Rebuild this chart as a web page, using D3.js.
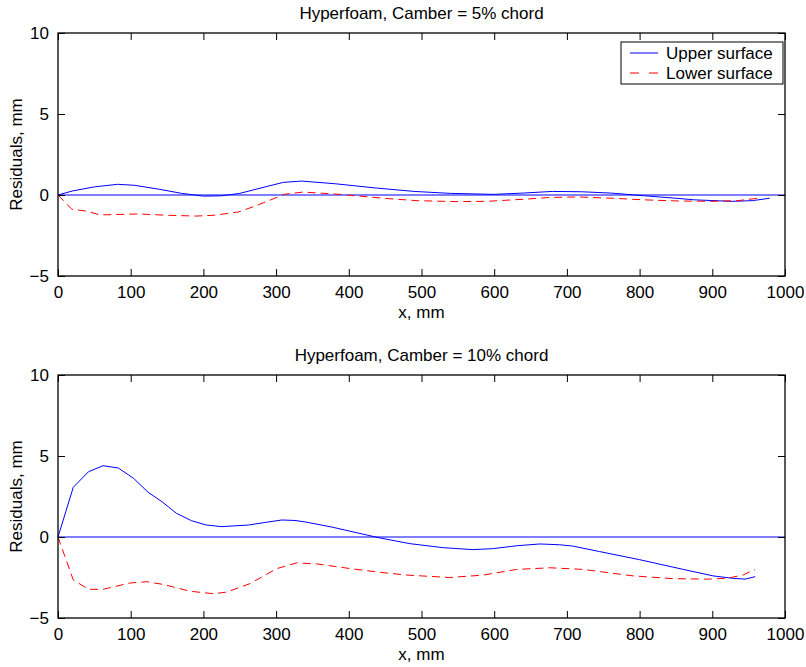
<!DOCTYPE html>
<html>
<head>
<meta charset="utf-8">
<script src="https://cdn.jsdelivr.net/npm/d3@7"></script>
<style>
  body { margin: 0; background: #fff; }
  svg { font-family: "Liberation Sans", Arial, Helvetica, sans-serif; }
</style>
</head>
<body>
<svg id="chart" width="806" height="667"></svg>
<script>
// ---- data ----
const xTicks = [0, 100, 200, 300, 400, 500, 600, 700, 800, 900, 1000];
const yTicks = [-5, 0, 5, 10];
const seriesNames = ["Upper surface", "Lower surface"];

// Camber = 5% chord
const top5UpperX = [0, 20, 50, 82, 105, 140, 170, 200, 225, 250, 285, 310, 335, 380, 440, 490, 540, 600, 640, 680, 720, 760, 807, 850, 876, 927, 955, 979];
const top5UpperY = [0, 0.25, 0.5, 0.66, 0.6, 0.35, 0.1, -0.07, -0.05, 0.1, 0.5, 0.78, 0.86, 0.7, 0.42, 0.22, 0.1, 0.04, 0.12, 0.22, 0.2, 0.12, -0.05, -0.2, -0.3, -0.39, -0.35, -0.2];
const top5LowerX = [0, 19, 40, 58, 110, 150, 190, 215, 248, 270, 290, 312, 337, 360, 388, 447, 494, 549, 590, 645, 677, 715, 762, 807, 853, 899, 935, 963];
const top5LowerY = [0, -0.88, -1.0, -1.23, -1.17, -1.25, -1.3, -1.25, -1.05, -0.7, -0.35, 0.05, 0.18, 0.12, 0.04, -0.2, -0.35, -0.41, -0.39, -0.25, -0.15, -0.12, -0.2, -0.3, -0.37, -0.39, -0.35, -0.2];

// Camber = 10% chord
const bot10UpperX = [0, 21, 42, 62, 83, 104, 124, 143, 163, 184, 204, 225, 262, 285, 308, 326, 340, 378, 425, 443, 484, 530, 571, 598, 631, 663, 690, 708, 745, 800, 860, 901, 928, 945, 959];
const bot10UpperY = [0, 3.07, 4.03, 4.4, 4.26, 3.62, 2.76, 2.18, 1.46, 1.0, 0.74, 0.64, 0.74, 0.9, 1.05, 1.02, 0.93, 0.6, 0.12, -0.06, -0.41, -0.66, -0.78, -0.72, -0.54, -0.43, -0.48, -0.56, -0.9, -1.4, -2.0, -2.4, -2.55, -2.6, -2.45];
const bot10LowerX = [0, 21, 42, 62, 99, 122, 145, 182, 214, 232, 264, 301, 328, 356, 402, 447, 480, 539, 585, 631, 677, 722, 791, 846, 892, 920, 942, 959];
const bot10LowerY = [0, -2.65, -3.23, -3.23, -2.84, -2.76, -2.93, -3.35, -3.5, -3.4, -2.88, -1.95, -1.6, -1.66, -1.95, -2.2, -2.35, -2.5, -2.35, -2.0, -1.9, -2.0, -2.4, -2.57, -2.6, -2.55, -2.35, -2.0];

// horizontal reference line at zero
const zeroX = [0, 1000];
const zeroY = [0, 0];

const titles = ["Hyperfoam, Camber = 5% chord", "Hyperfoam, Camber = 10% chord"];

// ---- layout ----
const svg = d3.select("#chart");
const left = 58, right = 785;
const panelTops = [33, 375];
const panelH = 243;
const fontSize = 17;

const zip = (xs, ys) => xs.map((x, i) => [x, ys[i]]);

const panels = [
  { title: titles[0], top: panelTops[0], upper: zip(top5UpperX, top5UpperY), lower: zip(top5LowerX, top5LowerY), legend: true },
  { title: titles[1], top: panelTops[1], upper: zip(bot10UpperX, bot10UpperY), lower: zip(bot10LowerX, bot10LowerY), legend: false }
];

panels.forEach(p => drawPanel(p));

function drawPanel(p) {
  const x = d3.scaleLinear().domain([0, 1000]).range([left, right]);
  const y = d3.scaleLinear().domain([-5, 10]).range([p.top + panelH, p.top]);
  const g = svg.append("g");

  // zero line + data
  const line = d3.line().x(d => x(d[0])).y(d => y(d[1]));
  g.append("path").datum(zip(zeroX, zeroY))
    .attr("d", line).attr("fill", "none").attr("stroke", "#0000ff").attr("stroke-width", 1.2);
  g.append("path").datum(p.upper)
    .attr("d", line).attr("fill", "none").attr("stroke", "#0000ff").attr("stroke-width", 1);
  g.append("path").datum(p.lower)
    .attr("d", line).attr("fill", "none").attr("stroke", "#ff0000").attr("stroke-width", 1)
    .attr("stroke-dasharray", "8,5");

  // axes with inward ticks on all sides
  const bottom = g.append("g").attr("transform", `translate(0,${p.top + panelH})`)
    .call(d3.axisBottom(x).tickValues(xTicks).tickSize(-7).tickPadding(10).tickFormat(d3.format("d")));
  const topAx = g.append("g").attr("transform", `translate(0,${p.top})`)
    .call(d3.axisTop(x).tickValues(xTicks).tickSize(-7).tickFormat(""));
  const leftAx = g.append("g").attr("transform", `translate(${left},0)`)
    .call(d3.axisLeft(y).tickValues(yTicks).tickSize(-7).tickPadding(9));
  const rightAx = g.append("g").attr("transform", `translate(${right},0)`)
    .call(d3.axisRight(y).tickValues(yTicks).tickSize(-7).tickFormat(""));

  [bottom, topAx, leftAx, rightAx].forEach(a => {
    a.select(".domain").remove();
    a.selectAll("line").attr("stroke", "#000");
    a.selectAll("text").attr("fill", "#000")
      .style("font-size", fontSize + "px")
      .style("font-family", '"Liberation Sans", Arial, sans-serif');
  });

  g.append("rect")
    .attr("x", left).attr("y", p.top)
    .attr("width", right - left).attr("height", panelH)
    .attr("fill", "none").attr("stroke", "#000").attr("stroke-width", 1.3);

  // labels
  g.append("text").attr("x", (left + right) / 2).attr("y", p.top - 14)
    .attr("text-anchor", "middle").style("font-size", fontSize + "px").text(p.title);
  g.append("text").attr("x", (left + right) / 2).attr("y", p.top + panelH + 42)
    .attr("text-anchor", "middle").style("font-size", fontSize + "px").text("x, mm");
  g.append("text")
    .attr("transform", `translate(22,${p.top + panelH / 2}) rotate(-90)`)
    .attr("text-anchor", "middle").style("font-size", fontSize + "px").text("Residuals, mm");

  if (p.legend) drawLegend(g, p.top);
}

function drawLegend(g, top) {
  const lx = 621, ly = top + 9, lw = 162, lh = 42;
  g.append("rect").attr("x", lx).attr("y", ly).attr("width", lw).attr("height", lh)
    .attr("fill", "#fff").attr("stroke", "#000").attr("stroke-width", 1);
  const styles = [
    { color: "#0000ff", dash: null },
    { color: "#ff0000", dash: "9,10" }
  ];
  seriesNames.forEach((name, i) => {
    const yy = ly + 11 + i * 20;
    g.append("line").attr("x1", lx + 9).attr("x2", lx + 37).attr("y1", yy).attr("y2", yy)
      .attr("stroke", styles[i].color).attr("stroke-width", 1)
      .attr("stroke-dasharray", styles[i].dash);
    g.append("text").attr("x", lx + 45).attr("y", yy).attr("dy", "0.35em")
      .style("font-size", fontSize + "px").text(name);
  });
}
</script>
</body>
</html>
